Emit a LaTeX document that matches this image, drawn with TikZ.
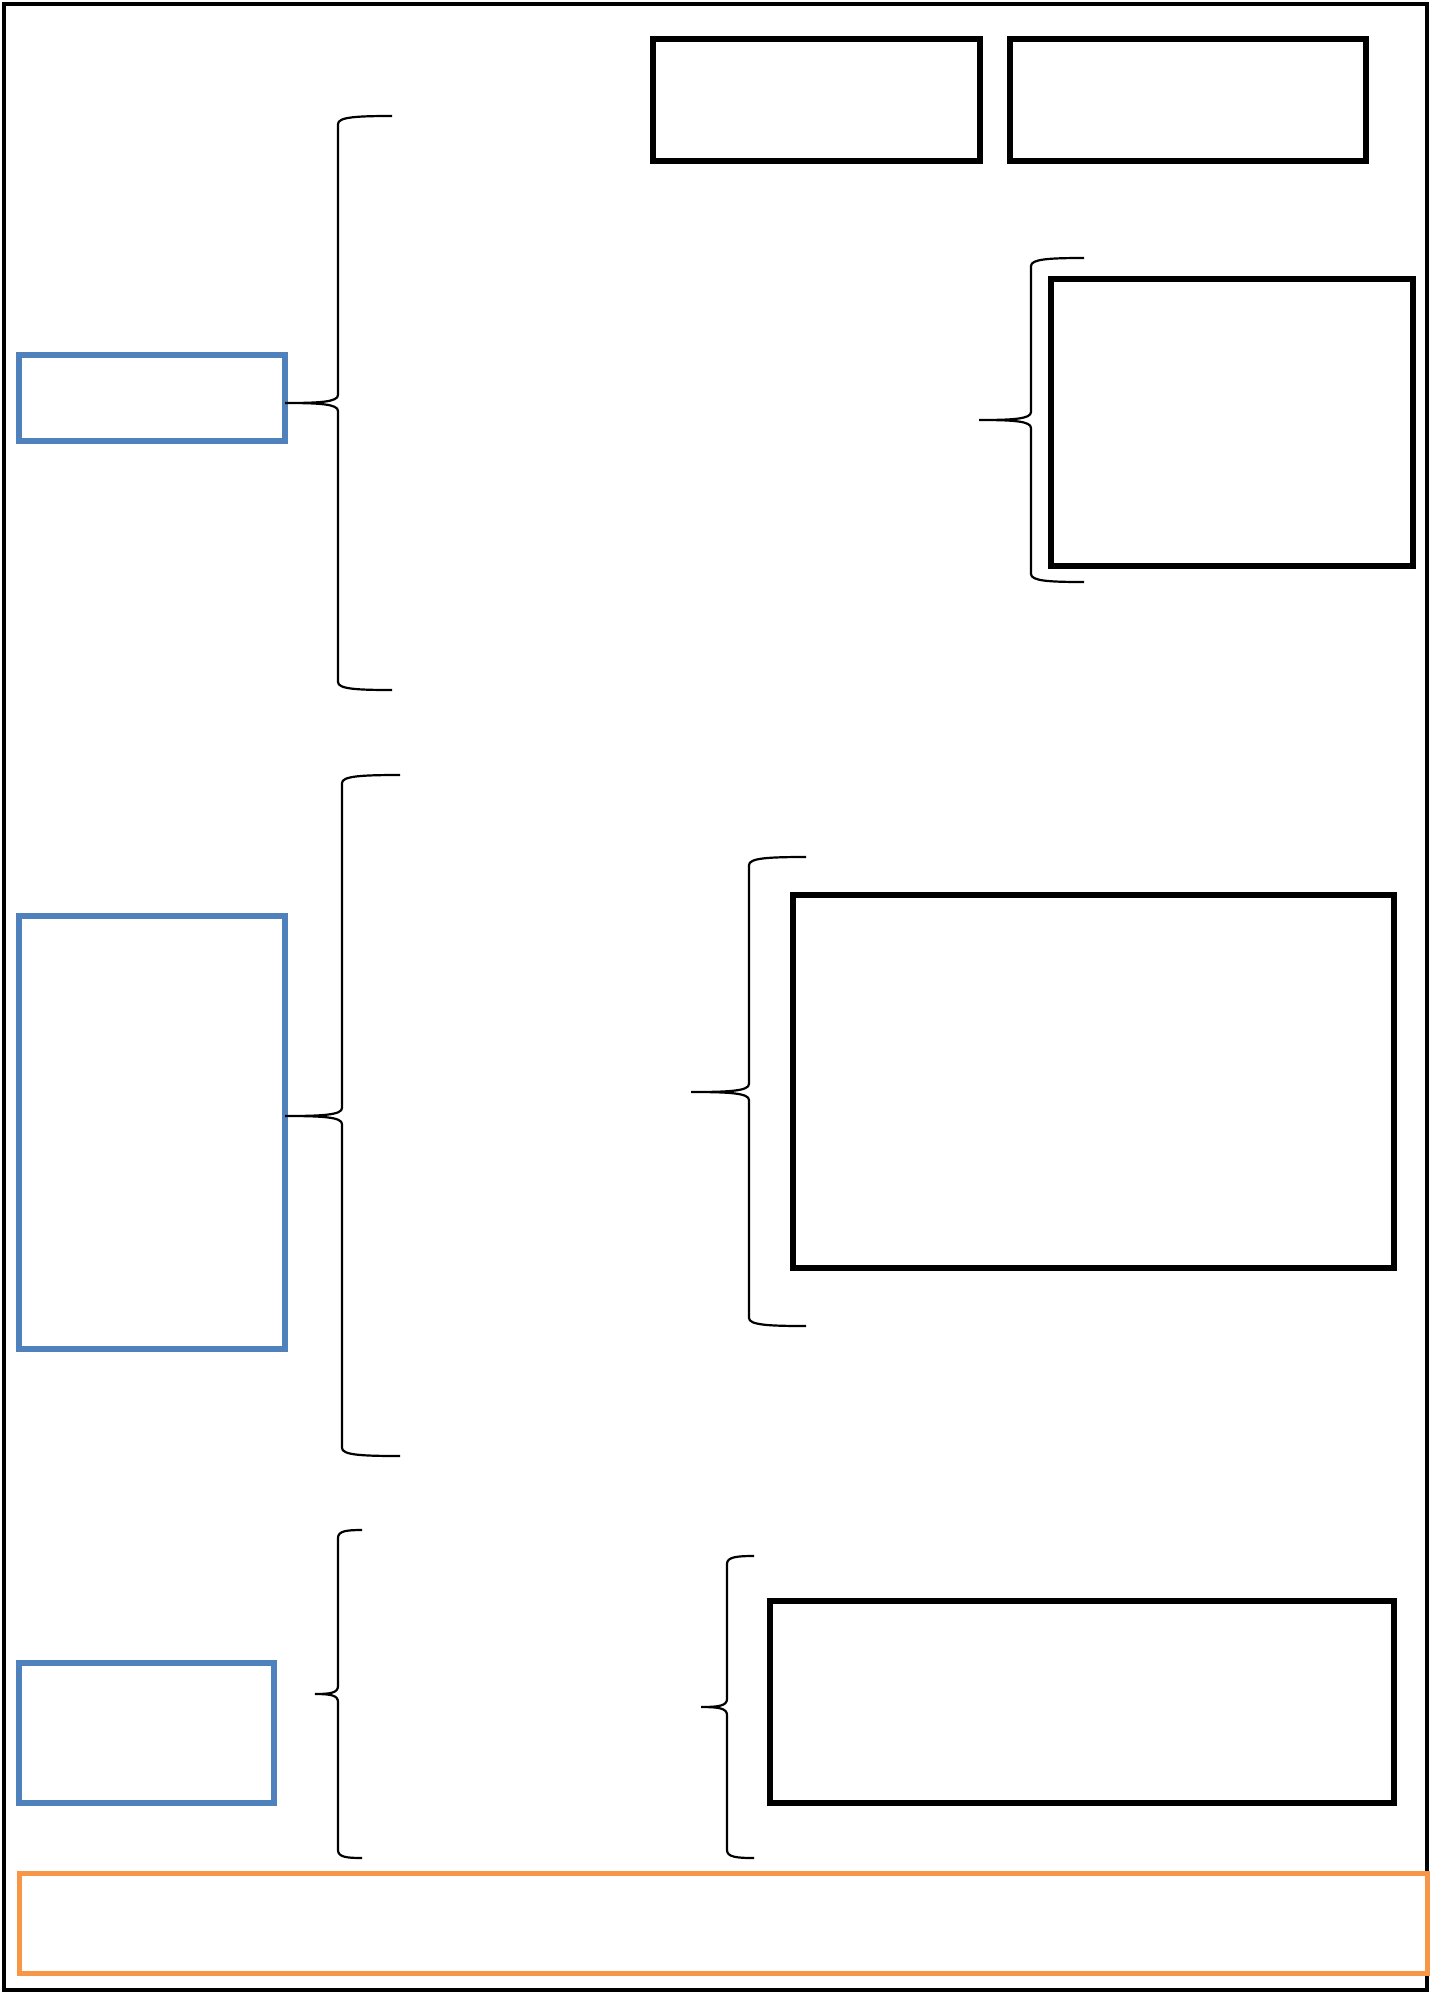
\documentclass[tikz,border=0pt]{standalone}
\usepackage{tikz}
\usetikzlibrary{fit}
\definecolor{accentblue}{HTML}{4F81BD}
\definecolor{accentorange}{HTML}{F79646}

% left curly brace: tip x, stem x, end x, top y, tip y, bottom y
\newcommand{\curlybrace}[6]{%
  \draw[curly] (#3,#4) .. controls ({#2+0.35*(#3-#2)},#4) and (#2,#4+1) .. (#2,#4+8)
    -- (#2,#5-8) .. controls (#2,#5-1) and ({#2+0.35*(#1-#2)},#5) .. (#1,#5)
    .. controls ({#2+0.35*(#1-#2)},#5) and (#2,#5+1) .. (#2,#5+8)
    -- (#2,#6-8) .. controls (#2,#6-1) and ({#2+0.35*(#3-#2)},#6) .. (#3,#6);}

\begin{document}
\begin{tikzpicture}[x=0.5pt, y=-0.5pt,
  box/.style={draw=black, line width=2.7pt, inner sep=0pt},
  bluebox/.style={draw=accentblue, line width=2.6pt, inner sep=0pt},
  notebox/.style={draw=accentorange, line width=2.5pt, inner sep=0pt},
  curly/.style={draw=black, line width=1.1pt}
]
\useasboundingbox (0,0) rectangle (1440,1993);

% outer frame
\node[box, line width=2.4pt, fit={(4,4) (1427,1990)}] (frame) {};

% top row
\node[box, fit={(653,39) (980,161)}] (topleft) {};
\node[box, fit={(1010,39) (1366,161)}] (topright) {};

% first block
\node[bluebox, fit={(19,355) (285,441)}] (first) {};
\curlybrace{285}{338}{392}{116}{403}{690}
\curlybrace{979}{1031}{1084}{258}{420}{582}
\node[box, fit={(1051,279) (1413,566)}] (firstnote) {};

% second block
\node[bluebox, fit={(19,916) (285,1349)}] (second) {};
\curlybrace{285}{342}{400}{775}{1116}{1456}
\curlybrace{691}{749}{806}{857}{1092}{1326}
\node[box, fit={(793,895) (1394,1268)}] (secondnote) {};

% third block
\node[bluebox, fit={(19,1663) (274,1803)}] (third) {};
\curlybrace{315}{338}{362}{1530}{1694}{1858}
\curlybrace{701}{727}{754}{1556}{1707}{1858}
\node[box, fit={(770,1601) (1394,1803)}] (thirdnote) {};

% bottom strip
\node[notebox, fit={(19,1873) (1427,1973)}] (summary) {};
\end{tikzpicture}
\end{document}
